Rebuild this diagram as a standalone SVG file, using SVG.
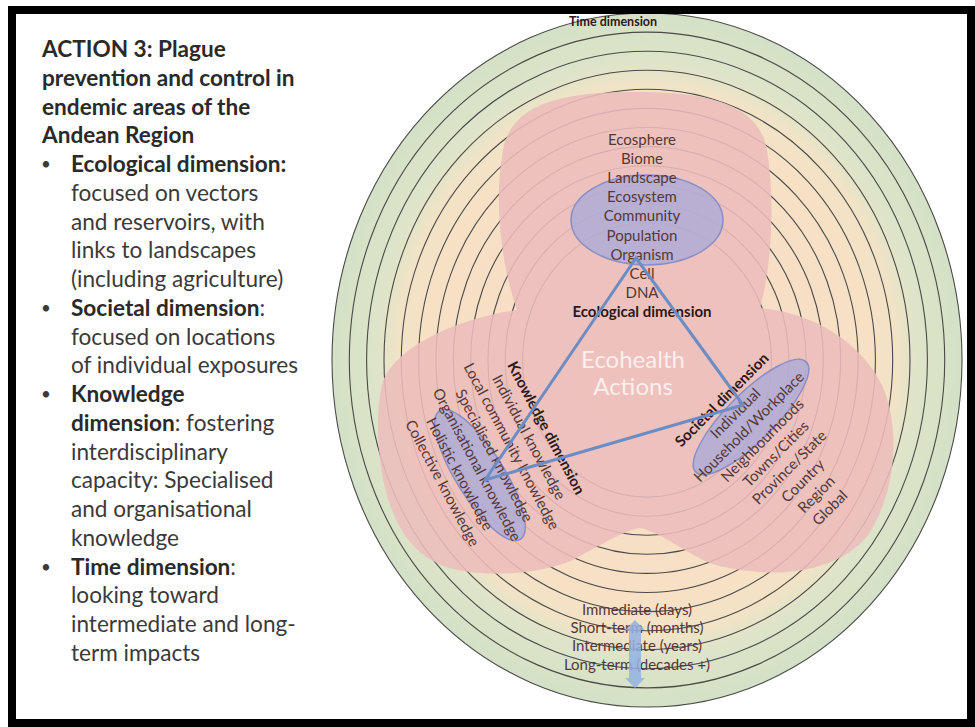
<svg xmlns="http://www.w3.org/2000/svg" width="975" height="727" viewBox="0 0 975 727">
<defs>
<radialGradient id="bg" cx="0.5" cy="0.5" r="0.5">
<stop offset="0" stop-color="#f8d9c4"/>
<stop offset="0.7" stop-color="#f7e1c5"/>
<stop offset="0.79" stop-color="#f2e3c6"/>
<stop offset="0.86" stop-color="#dde4c9"/>
<stop offset="1" stop-color="#d4e1c6"/>
</radialGradient>
</defs>
<style>
.t{font-family:Lato,"Open Sans","Liberation Sans",sans-serif;font-size:22.6px;fill:#3a3a3a}
.bl{font-family:Lato,"Open Sans","Liberation Sans",sans-serif;font-size:17px;fill:#3a3a3a}
.b{font-weight:700;fill:#2a2a2a}
.ring{fill:none;stroke:#4a4a4a;stroke-width:1.1}
.d{font-family:Lato,"Open Sans","Liberation Sans",sans-serif;font-size:15px;fill:#553838;text-anchor:middle}
.db{font-weight:700;fill:#2e1818}
.blob{fill:#a9abd8;fill-opacity:0.78;stroke:#8a8ec6;stroke-width:1.5}
.link{fill:none;stroke:#6c8dc4;stroke-width:3;stroke-linecap:round}
.eh{font-family:Lato,"Open Sans","Liberation Sans",sans-serif;font-size:24px;fill:#ffffff;fill-opacity:0.75;text-anchor:middle}
</style>
<rect width="975" height="727" fill="#ffffff"/>

<g id="caption">
<text class="t b" x="42" y="57">ACTION 3: Plague</text>
<text class="t b" x="42" y="85.75">prevention and control in</text>
<text class="t b" x="42" y="114.5">endemic areas of the</text>
<text class="t b" x="42" y="143.25">Andean Region</text>
<text class="bl" x="41" y="170">•</text>
<text class="t b" x="71" y="172">Ecological dimension:</text>
<text class="t" x="71" y="200.75">focused on vectors</text>
<text class="t" x="71" y="229.5">and reservoirs, with</text>
<text class="t" x="71" y="258.25">links to landscapes</text>
<text class="t" x="71" y="287">(including agriculture)</text>
<text class="bl" x="41" y="313.75">•</text>
<text class="t" x="71" y="315.75"><tspan class="b">Societal dimension</tspan>:</text>
<text class="t" x="71" y="344.5">focused on locations</text>
<text class="t" x="71" y="373.25">of individual exposures</text>
<text class="bl" x="41" y="400">•</text>
<text class="t b" x="71" y="402">Knowledge</text>
<text class="t" x="71" y="430.75"><tspan class="b">dimension</tspan>: fostering</text>
<text class="t" x="71" y="459.5">interdisciplinary</text>
<text class="t" x="71" y="488.25">capacity: Specialised</text>
<text class="t" x="71" y="517">and organisational</text>
<text class="t" x="71" y="545.75">knowledge</text>
<text class="bl" x="41" y="572.5">•</text>
<text class="t" x="71" y="574.5"><tspan class="b">Time dimension</tspan>:</text>
<text class="t" x="71" y="603.25">looking toward</text>
<text class="t" x="71" y="632">intermediate and long-</text>
<text class="t" x="71" y="660.75">term impacts</text>
</g>

<g id="time-rings">
<ellipse cx="647" cy="360" rx="315" ry="347" fill="url(#bg)"/>
<ellipse class="ring" cx="647" cy="360" rx="315" ry="347"/>
<ellipse class="ring" cx="647" cy="360" rx="297.7" ry="327.9"/>
<ellipse class="ring" cx="647" cy="360" rx="280.4" ry="308.8"/>
<ellipse class="ring" cx="647" cy="360" rx="263" ry="289.7"/>
<ellipse class="ring" cx="647" cy="360" rx="245.7" ry="270.7"/>
<ellipse class="ring" cx="647" cy="360" rx="228.4" ry="251.6"/>
<ellipse class="ring" cx="647" cy="360" rx="211.1" ry="232.5"/>
<ellipse class="ring" cx="647" cy="360" rx="193.7" ry="213.4"/>
<ellipse class="ring" cx="647" cy="360" rx="176.4" ry="194.3"/>
<ellipse class="ring" cx="647" cy="360" rx="159.1" ry="175.2"/>
<ellipse class="ring" cx="647" cy="360" rx="141.8" ry="156.2"/>
<ellipse class="ring" cx="647" cy="360" rx="124.4" ry="137.1"/>
<text class="d db" x="613" y="26" style="font-size:12.5px">Time dimension</text>
</g>

<g id="petals" opacity="0.88">
<path fill="#ecbdbc" d="M 635,92 C 700,92 758,100 767,150 C 775,200 772,265 760,308 C 810,312 860,340 882,385 C 900,425 898,490 868,535 C 845,565 800,575 760,572 C 735,570 715,566 703,560 C 680,548 655,530 640,528 C 625,530 595,548 573,560 C 550,570 510,577 470,572 C 430,568 405,545 392,510 C 378,475 374,420 382,385 C 392,350 450,320 517,310 C 500,260 494,200 503,150 C 512,100 570,92 635,92 Z"/>
</g>

<g id="ecological-dimension">
<ellipse class="blob" cx="647" cy="220" rx="76" ry="45"/>
<text class="d" x="642" y="145">Ecosphere</text>
<text class="d" x="642" y="164.1">Biome</text>
<text class="d" x="642" y="183.2">Landscape</text>
<text class="d" x="642" y="202.3">Ecosystem</text>
<text class="d" x="642" y="221.4">Community</text>
<text class="d" x="642" y="240.5">Population</text>
<text class="d" x="642" y="259.6">Organism</text>
<text class="d" x="642" y="278.7">Cell</text>
<text class="d" x="642" y="297.8">DNA</text>
<text class="d db" x="642" y="316.9">Ecological dimension</text>
</g>

<g id="knowledge-dimension">
<ellipse class="blob" cx="0" cy="0" rx="76" ry="24" transform="translate(480,475) rotate(58)"/>
<text class="d db" transform="translate(546,428) rotate(62)" y="5">Knowledge dimension</text>
<text class="d" transform="translate(528.7,437.2) rotate(62)" y="5">Individual knowledge</text>
<text class="d" transform="translate(511.4,446.4) rotate(62)" y="5">Local community knowledge</text>
<text class="d" transform="translate(494.1,455.6) rotate(62)" y="5">Specialised knowledge</text>
<text class="d" transform="translate(476.8,464.8) rotate(62)" y="5">Organisational knowledge</text>
<text class="d" transform="translate(459.5,474) rotate(62)" y="5">Holistic knowledge</text>
<text class="d" transform="translate(442.2,483.2) rotate(62)" y="5">Collective knowledge</text>
</g>

<g id="societal-dimension">
<ellipse class="blob" cx="0" cy="0" rx="78" ry="24" transform="translate(751,417) rotate(-45)"/>
<text class="d db" transform="translate(722,400) rotate(-45)" y="5">Societal dimension</text>
<text class="d" transform="translate(735.5,413.5) rotate(-45)" y="5">Individual</text>
<text class="d" transform="translate(749,427) rotate(-45)" y="5">Household/Workplace</text>
<text class="d" transform="translate(762.5,440.5) rotate(-45)" y="5">Neighbourhoods</text>
<text class="d" transform="translate(776,454) rotate(-45)" y="5">Towns/Cities</text>
<text class="d" transform="translate(789.5,467.5) rotate(-45)" y="5">Province/State</text>
<text class="d" transform="translate(803,481) rotate(-45)" y="5">Country</text>
<text class="d" transform="translate(816.5,494.5) rotate(-45)" y="5">Region</text>
<text class="d" transform="translate(830,508) rotate(-45)" y="5">Global</text>
</g>

<g id="connectors">
<line class="link" x1="636" y1="258" x2="485" y2="480"/>
<line class="link" x1="636" y1="258" x2="743" y2="405"/>
<line class="link" x1="485" y1="480" x2="743" y2="405"/>
</g>

<g id="ecohealth-actions">
<text class="eh" x="633" y="368">Ecohealth</text>
<text class="eh" x="633" y="395">Actions</text>
</g>

<g id="time-scale">
<text class="d" x="637" y="615">Immediate (days)</text>
<text class="d" x="637" y="633">Short-term (months)</text>
<text class="d" x="637" y="651">Intermediate (years)</text>
<text class="d" x="637" y="670">Long-term (decades +)</text>
<polygon points="635,620 645,630 641,630 641,678 645,678 635,688 625,678 629,678 629,630 625,630" fill="#93b1e3" fill-opacity="0.85"/>
</g>

<rect x="12" y="10" width="959" height="713" fill="none" stroke="#000000" stroke-width="8"/>
</svg>
